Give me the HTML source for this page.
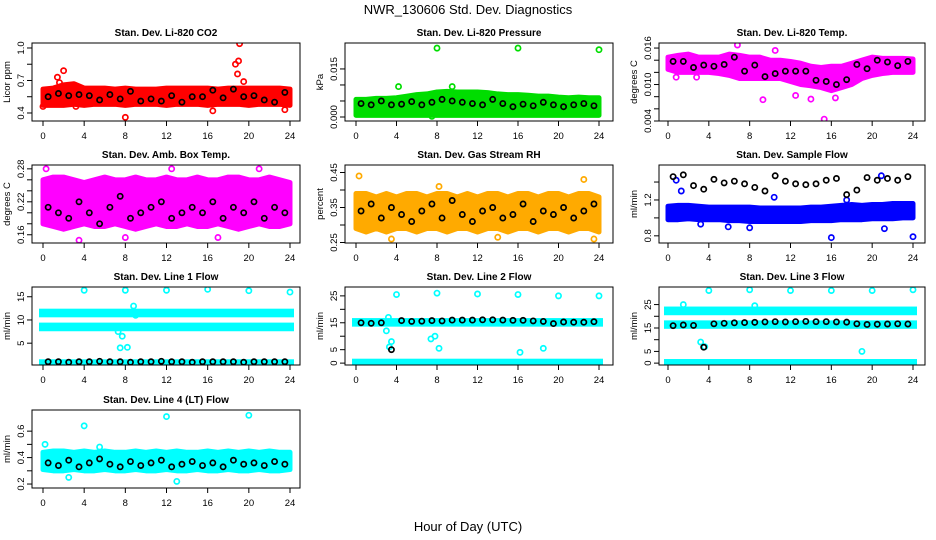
<!DOCTYPE html>
<html><head><meta charset="utf-8"><style>
body{margin:0;background:#fff}
svg{display:block;font-family:"Liberation Sans",sans-serif}
</style></head><body>
<svg id="c" width="936" height="540" xmlns="http://www.w3.org/2000/svg">
<text x="468" y="14" text-anchor="middle" font-size="13">NWR_130606  Std. Dev. Diagnostics</text>
<text x="468" y="531" text-anchor="middle" font-size="13">Hour of Day (UTC)</text>
</svg>
<script>
// ---- data ----
const hours = [0,1,2,3,4,5,6,7,8,9,10,11,12,13,14,15,16,17,18,19,20,21,22,23,24];
const xTicks = [0,4,8,12,16,20,24];

const co2Lo = [0.47,0.47,0.47,0.48,0.47,0.48,0.48,0.48,0.47,0.48,0.48,0.48,0.47,0.48,0.48,0.48,0.47,0.48,0.48,0.48,0.47,0.48,0.48,0.48,0.47];
const co2Hi = [0.62,0.63,0.66,0.67,0.63,0.63,0.63,0.62,0.63,0.62,0.62,0.62,0.63,0.63,0.63,0.63,0.63,0.62,0.63,0.63,0.63,0.63,0.63,0.63,0.62];
const co2Out = [[1.4,0.73],[2.0,0.79],[1.6,0.68],[18.7,0.85],[18.9,0.76],[19,0.88],[19.1,1.04],[8,0.36],[16.5,0.42],[23.5,0.43],[19.5,0.69],[0,0.46],[3.2,0.46]];
const co2Black = [0.55,0.58,0.56,0.57,0.56,0.52,0.57,0.53,0.60,0.51,0.53,0.51,0.56,0.50,0.55,0.55,0.61,0.54,0.62,0.55,0.56,0.52,0.50,0.59];

const presLo = [0.0005,0.0005,0.0005,0.0005,0.0005,0.0005,0.0005,0.0005,0.0005,0.0005,0.0005,0.0005,0.0005,0.0005,0.0005,0.0005,0.0005,0.0005,0.0005,0.0005,0.0005,0.0005,0.0005,0.0005,0.0005];
const presHi = [0.0055,0.0055,0.0058,0.0058,0.006,0.0065,0.007,0.0072,0.0078,0.008,0.0078,0.0078,0.0078,0.0076,0.0072,0.007,0.007,0.0068,0.0065,0.0065,0.0062,0.006,0.0062,0.006,0.006];
const presOut = [[8,0.0215],[16,0.0215],[24,0.021],[4.2,0.0095],[9.5,0.0095],[7.5,0.0002]];
const presBlack = [0.0042,0.0038,0.005,0.0038,0.004,0.0048,0.0038,0.0046,0.0055,0.005,0.0046,0.0042,0.0038,0.0055,0.0042,0.0032,0.004,0.0035,0.0046,0.0038,0.0032,0.0038,0.0042,0.0035];

const tempLo = [0.0125,0.012,0.012,0.012,0.012,0.0118,0.0115,0.011,0.011,0.011,0.011,0.011,0.0105,0.010,0.0098,0.0095,0.009,0.0095,0.010,0.011,0.0115,0.0118,0.012,0.012,0.012];
const tempHi = [0.0145,0.0148,0.015,0.0145,0.0145,0.0145,0.015,0.0148,0.0145,0.0145,0.014,0.014,0.0138,0.0135,0.013,0.0128,0.013,0.013,0.0135,0.014,0.0145,0.0143,0.0143,0.0143,0.0142];
const tempOut = [[6.8,0.0165],[15.3,0.0043],[9.3,0.0075],[14,0.0076],[12.5,0.0082],[16.4,0.0078],[0.8,0.0112],[2.8,0.0112],[10.5,0.0156]];
const tempBlack = [0.0138,0.0138,0.0128,0.0132,0.013,0.0133,0.0145,0.0122,0.0132,0.0113,0.0118,0.0122,0.0122,0.0122,0.0107,0.0105,0.0100,0.0108,0.0133,0.0126,0.0140,0.0137,0.0131,0.0138];

const boxLo = [0.18,0.175,0.17,0.175,0.18,0.175,0.175,0.18,0.175,0.17,0.175,0.18,0.175,0.175,0.18,0.175,0.175,0.18,0.175,0.17,0.175,0.18,0.175,0.175,0.18];
const boxHi = [0.26,0.265,0.265,0.26,0.255,0.26,0.265,0.26,0.26,0.265,0.26,0.26,0.265,0.26,0.26,0.265,0.26,0.26,0.265,0.265,0.26,0.26,0.265,0.26,0.255];
const boxOut = [[3.5,0.15],[0.3,0.28],[12.5,0.28],[21,0.28],[8,0.155],[17,0.155]];
const boxBlack = [0.21,0.20,0.19,0.22,0.20,0.18,0.21,0.23,0.19,0.20,0.21,0.22,0.19,0.20,0.21,0.20,0.22,0.19,0.21,0.20,0.22,0.19,0.21,0.20];

const rhLo = [0.29,0.28,0.29,0.28,0.29,0.29,0.28,0.29,0.29,0.28,0.29,0.29,0.28,0.29,0.29,0.28,0.29,0.29,0.28,0.29,0.29,0.28,0.29,0.29,0.28];
const rhHi = [0.39,0.39,0.38,0.39,0.38,0.39,0.39,0.38,0.39,0.39,0.38,0.39,0.38,0.39,0.39,0.38,0.39,0.39,0.38,0.39,0.39,0.38,0.39,0.39,0.38];
const rhOut = [[0.3,0.44],[22.5,0.43],[3.5,0.26],[23.5,0.26],[8.2,0.41],[14,0.265]];
const rhBlack = [0.34,0.36,0.32,0.35,0.33,0.31,0.34,0.36,0.32,0.37,0.33,0.31,0.34,0.35,0.32,0.33,0.36,0.31,0.34,0.33,0.35,0.32,0.34,0.36];

const flowLo = [0.98,0.98,0.99,0.98,0.98,0.98,0.97,0.97,0.96,0.96,0.96,0.96,0.96,0.96,0.97,0.97,0.97,0.98,0.98,0.98,0.99,0.99,0.99,1.0,1.0];
const flowHi = [1.13,1.14,1.14,1.13,1.12,1.12,1.12,1.12,1.12,1.11,1.11,1.11,1.11,1.11,1.12,1.12,1.13,1.14,1.15,1.14,1.15,1.15,1.16,1.16,1.16];
const flowOut = [[16,0.78],[24,0.79],[20.9,1.47],[0.8,1.42],[1.3,1.3],[3.2,0.93],[5.9,0.9],[8,0.89],[21.2,0.88],[10.4,1.23],[17.5,1.2]];
const flowBlack = [1.46,1.48,1.36,1.32,1.43,1.39,1.41,1.38,1.34,1.30,1.47,1.41,1.38,1.37,1.38,1.42,1.44,1.26,1.31,1.45,1.42,1.44,1.42,1.46];

const l1Bands = [[11.0,12.0],[8.0,9.0],[0.5,1.1]];
const l1Out = [[4,16.4],[8,16.4],[12,16.4],[16,16.6],[20,16.3],[24,16],[7.5,4],[8.2,4.1],[7.7,6.5],[8.8,13],[9,11],[7.3,7.5]];
const l1Black = [1.0,1.0,0.9,1.0,1.0,1.1,1.0,1.0,0.9,1.0,1.0,1.1,1.0,1.0,0.9,1.0,1.0,1.0,1.0,0.9,1.0,1.0,1.0,1.0];

const l2Bands = [[14.3,16.0],[0,0.9]];
const l2Out = [[4,25.5],[8,26],[12,25.7],[16,25.5],[20,25],[24,25],[3,12],[3.2,17],[3.5,8],[7.4,9],[7.8,10],[8.2,5.5],[16.2,4],[18.5,5.5],[3.3,6]];
const l2Black = [15,14.8,15,5,15.8,15.5,15.6,15.8,15.7,16,16,16,16.1,16.1,16,15.9,15.9,15.7,15.5,14.7,15.3,15.2,15.2,15.4];

const l3Bands = [[21.3,23.3],[15.5,17.4],[0,0.9]];
const l3Out = [[4,31],[8,31.3],[12,31],[16,31],[20,31],[24,31.3],[3.2,9],[3.6,7],[19,5],[1.5,25],[8.5,24.5]];
const l3Black = [16.0,16.3,16.1,6.8,16.8,17.0,17.2,17.3,17.4,17.6,17.7,17.6,17.7,17.8,17.7,17.7,17.6,17.5,16.8,16.5,16.6,16.7,16.8,16.7];

const l4Lo = [0.31,0.30,0.30,0.31,0.30,0.30,0.31,0.30,0.30,0.31,0.30,0.30,0.31,0.30,0.30,0.31,0.30,0.30,0.31,0.30,0.30,0.31,0.30,0.30,0.31];
const l4Hi = [0.44,0.45,0.45,0.44,0.45,0.44,0.45,0.44,0.44,0.45,0.44,0.45,0.44,0.45,0.44,0.44,0.45,0.44,0.45,0.44,0.45,0.44,0.45,0.44,0.44];
const l4Out = [[4,0.64],[12,0.71],[20,0.72],[13,0.22],[0.2,0.5],[5.5,0.48],[2.5,0.25]];
const l4Black = [0.36,0.34,0.38,0.33,0.36,0.39,0.35,0.33,0.37,0.34,0.36,0.38,0.33,0.35,0.37,0.34,0.36,0.33,0.38,0.35,0.36,0.34,0.37,0.35];

// ---- layout ----
const svg = document.getElementById('c');
const NS = 'http://www.w3.org/2000/svg';
const cols = [{l:32,r:300,x0:43,x1:290},{l:345,r:613,x0:356,x1:599},{l:659,r:925,x0:668,x1:913}];
const rows = [43,165,287,410];
const BH = 78;

function mk(tag, attrs, parent){
  const e = document.createElementNS(NS, tag);
  for (const k in attrs) e.setAttribute(k, attrs[k]);
  (parent||svg).appendChild(e);
  return e;
}

const panels = [
 {name:'co2',title:'Stan. Dev. Li-820 CO2',ylab:'Licor ppm',r:0,c:0,ylim:[0.326,1.046],ticks:[0.4,0.55,0.7,0.85,1.0],labels:['0.4','','0.7','','1.0'],color:'#ff0000',bands:[[co2Lo,co2Hi]],out:co2Out,black:co2Black},
 {name:'pressure',title:'Stan. Dev. Li-820 Pressure',ylab:'kPa',r:0,c:1,ylim:[-0.00125,0.0231],ticks:[0,0.005,0.01,0.015],labels:['0.000','','','0.015'],color:'#00dd00',bands:[[presLo,presHi]],out:presOut,black:presBlack},
 {name:'temp',title:'Stan. Dev. Li-820 Temp.',ylab:'degrees C',r:0,c:2,ylim:[0.004,0.01683],ticks:[0.004,0.006,0.008,0.010,0.012,0.014,0.016],labels:['0.004','','','0.010','','','0.016'],color:'#ff00ff',bands:[[tempLo,tempHi]],out:tempOut,black:tempBlack},
 {name:'box-temp',title:'Stan. Dev. Amb. Box Temp.',ylab:'degrees C',r:1,c:0,ylim:[0.145,0.287],ticks:[0.16,0.18,0.20,0.22,0.24,0.26,0.28],labels:['0.16','','','0.22','','','0.28'],color:'#ff00ff',bands:[[boxLo,boxHi]],out:boxOut,black:boxBlack},
 {name:'rh',title:'Stan. Dev. Gas Stream RH',ylab:'percent',r:1,c:1,ylim:[0.2486,0.4714],ticks:[0.25,0.3,0.35,0.4,0.45],labels:['0.25','','0.35','','0.45'],color:'#ffaa00',bands:[[rhLo,rhHi]],out:rhOut,black:rhBlack},
 {name:'sample-flow',title:'Stan. Dev. Sample Flow',ylab:'ml/min',r:1,c:2,ylim:[0.72,1.59],ticks:[0.8,1.0,1.2,1.4],labels:['0.8','','1.2',''],color:'#0000ff',bands:[[flowLo,flowHi]],out:flowOut,black:flowBlack},
 {name:'line1-flow',title:'Stan. Dev. Line 1 Flow',ylab:'ml/min',r:2,c:0,ylim:[0.3,17.1],ticks:[5,10,15],labels:['5','10','15'],color:'#00ffff',bands:l1Bands,out:l1Out,black:l1Black},
 {name:'line2-flow',title:'Stan. Dev. Line 2 Flow',ylab:'ml/min',r:2,c:1,ylim:[-0.7,28.3],ticks:[0,5,10,15,20,25],labels:['0','5','','15','','25'],color:'#00ffff',bands:l2Bands,out:l2Out,black:l2Black},
 {name:'line3-flow',title:'Stan. Dev. Line 3 Flow',ylab:'ml/min',r:2,c:2,ylim:[-0.8,32.5],ticks:[0,5,10,15,20,25],labels:['0','5','','15','','25'],color:'#00ffff',bands:l3Bands,out:l3Out,black:l3Black},
 {name:'line4-flow',title:'Stan. Dev. Line 4 (LT) Flow',ylab:'ml/min',r:3,c:0,ylim:[0.17,0.76],ticks:[0.2,0.3,0.4,0.5,0.6],labels:['0.2','','0.4','','0.6'],color:'#00ffff',bands:[[l4Lo,l4Hi]],out:l4Out,black:l4Black}
];

panels.forEach(p=>{
  const col = cols[p.c], top = rows[p.r], bot = top+BH;
  const X = h => col.x0 + (col.x1-col.x0)*h/24;
  const Y = v => bot - (v-p.ylim[0])/(p.ylim[1]-p.ylim[0])*BH;
  const g = mk('g',{});
  
  
  const cp = mk('clipPath',{id:'cl-'+p.name},g);
  mk('rect',{x:col.l,y:top,width:col.r-col.l,height:BH},cp);
  const t = mk('text',{x:(col.l+col.r)/2,y:top-7,'text-anchor':'middle','font-size':'10','font-weight':'bold'},g);
  t.textContent = p.title;
  
  
  const yl = mk('text',{x:0,y:0,'text-anchor':'middle','font-size':'9.5',transform:`translate(${col.l-22},${(top+bot)/2}) rotate(-90)`},g);
  yl.textContent = p.ylab;
  
  
  const data = mk('g',{'clip-path':`url(#cl-${p.name})`},g);
  if (Array.isArray(p.bands[0][0])) {
    p.bands.forEach(b=>{
      const lo=b[0], hi=b[1];
      let d='M'+hours.map((h,i)=>X(h)+','+Y(hi[i])).join('L')+'L'+hours.slice().reverse().map((h,j)=>X(h)+','+Y(lo[lo.length-1-j])).join('L')+'Z';
      const pa = mk('path',{d:d,fill:p.color,stroke:p.color,'stroke-width':5,'stroke-linejoin':'round'},data);
      
      
    });
  } else {
    p.bands.forEach(b=>{
      const r = mk('rect',{x:X(0)-2,y:Y(b[1]),width:X(24)-X(0)+4,height:Math.max(2,Y(b[0])-Y(b[1])),fill:p.color,stroke:p.color,'stroke-width':4},data);
      
      
    });
  }
  p.out.forEach(o=>{
    const c = mk('circle',{cx:X(o[0]),cy:Y(o[1]),r:2.6,fill:'none',stroke:p.color,'stroke-width':1.7},data);
    
    
  });
  p.black.forEach((v,i)=>{
    const c = mk('circle',{cx:X(i+0.5),cy:Y(v),r:2.6,fill:'none',stroke:'#000','stroke-width':1.7},data);
    
    
  });
  const box = mk('rect',{x:col.l,y:top,width:col.r-col.l,height:BH,fill:'none',stroke:'#000','stroke-width':1},g);
  
  
  xTicks.forEach(h=>{
    mk('line',{x1:X(h),x2:X(h),y1:bot,y2:bot+5,stroke:'#000'},g);
    const tl = mk('text',{x:X(h),y:bot+18,'text-anchor':'middle','font-size':'9.5'},g);
    tl.textContent = h;
    
    
  });
  p.ticks.forEach((v,i)=>{
    mk('line',{x1:col.l-5,x2:col.l,y1:Y(v),y2:Y(v),stroke:'#000'},g);
    if (p.labels[i]) {
      const tl = mk('text',{x:0,y:0,'text-anchor':'middle','font-size':'9.5',transform:`translate(${col.l-8},${Y(v)}) rotate(-90)`},g);
      tl.textContent = p.labels[i];
      
      
    }
  });
});
</script>
</body></html>
